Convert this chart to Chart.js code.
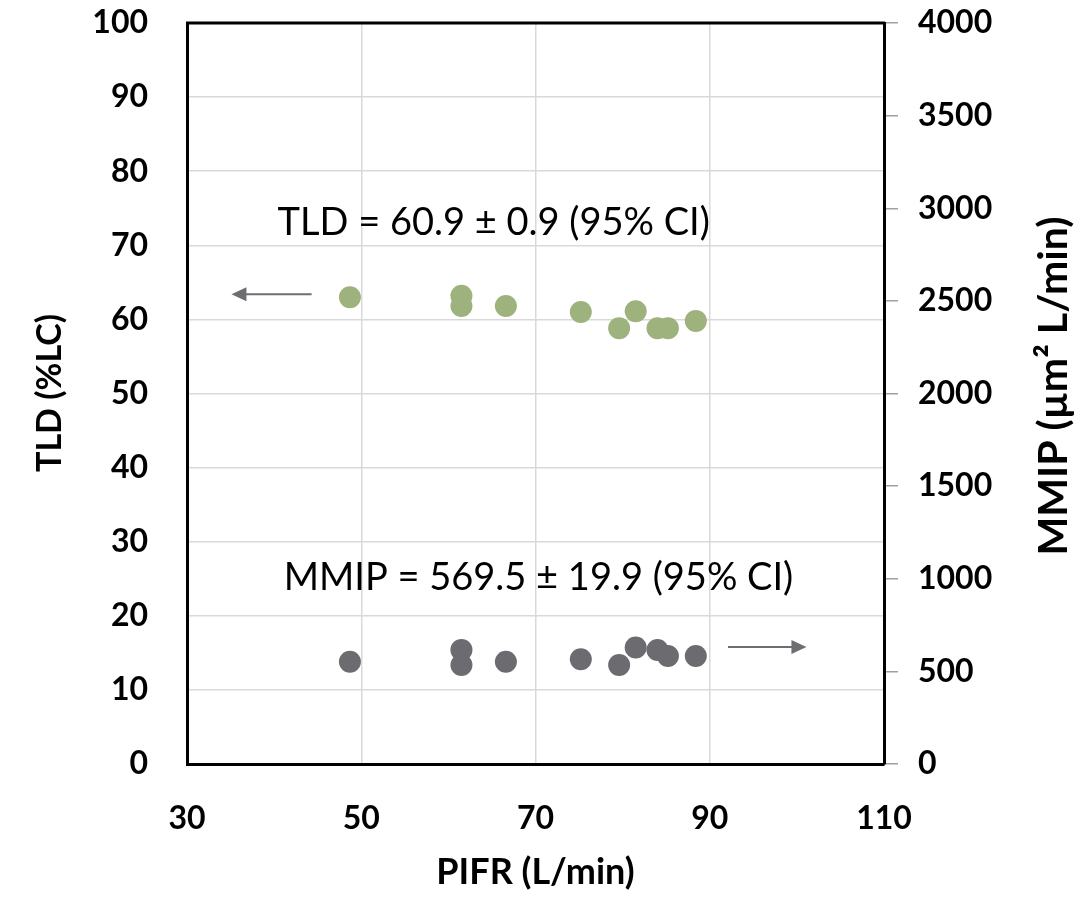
<!DOCTYPE html>
<html>
<head>
<meta charset="utf-8">
<script src="https://cdn.jsdelivr.net/npm/chart.js@4.4.0/dist/chart.umd.min.js"></script>
<style>
  html, body { margin: 0; padding: 0; background: #fff; }
  #wrap { width: 1084px; height: 905px; }
</style>
</head>
<body>
<div id="wrap"><canvas id="chart" width="1084" height="905"></canvas></div>
<script>
// datos
const pifr = [48.7, 61.5, 61.5, 66.6, 75.2, 79.6, 81.5, 84.0, 85.2, 88.4];
const tld  = [63.0, 63.2, 61.8, 61.8, 61.0, 58.8, 61.1, 58.8, 58.8, 59.8];
const pifrMmip = [48.7, 61.5, 61.5, 66.6, 75.2, 79.6, 81.5, 84.0, 85.2, 88.4];
const mmip = [552, 616, 534, 552, 565, 534, 629, 615, 583, 583];

const xTicks = [30, 50, 70, 90, 110];
const tldTicks = [0, 10, 20, 30, 40, 50, 60, 70, 80, 90, 100];
const mmipTicks = [0, 500, 1000, 1500, 2000, 2500, 3000, 3500, 4000];

const tldLabel = 'TLD = 60.9 \u00b1 0.9 (95% CI)';
const mmipLabel = 'MMIP = 569.5 \u00b1 19.9 (95% CI)';

const FONT = 'Lato, "Open Sans", sans-serif';
const GREEN = '#9db27c';
const GREY = '#6b6b70';

// flecha con punta triangular
function arrow(c, x1, y1, x2, y2) {
    const dir = Math.sign(x2 - x1);
    c.save();
    c.strokeStyle = '#6e6e72';
    c.fillStyle = '#6e6e72';
    c.lineWidth = 2;
    c.beginPath();
    c.moveTo(x1, y1);
    c.lineTo(x2 - dir * 12, y2);
    c.stroke();
    c.beginPath();
    c.moveTo(x2, y2);
    c.lineTo(x2 - dir * 15, y2 - 7);
    c.lineTo(x2 - dir * 15, y2 + 7);
    c.closePath();
    c.fill();
    c.restore();
}

const extras = {
    id: 'extras',
    afterDraw(chart) {
        const c = chart.ctx;
        const a = chart.chartArea;
        const x = chart.scales.x, yl = chart.scales.y, yr = chart.scales.y2;

        // marco superior
        c.save();
        c.strokeStyle = '#000';
        c.lineWidth = 3;
        c.beginPath();
        c.moveTo(a.left - 1, a.top);
        c.lineTo(a.right + 1, a.top);
        c.stroke();
        c.restore();

        // textos de anotación
        c.save();
        c.fillStyle = '#000';
        c.font = '38px ' + FONT;
        c.textBaseline = 'middle';
        c.textAlign = 'left';
        c.fillText(tldLabel, x.getPixelForValue(40.4), yl.getPixelForValue(73.1));
        c.fillText(mmipLabel, x.getPixelForValue(41.1), yr.getPixelForValue(1004));
        c.restore();

        // flechas
        arrow(c, x.getPixelForValue(44.3), yl.getPixelForValue(63.4),
                 x.getPixelForValue(35.1), yl.getPixelForValue(63.4));
        arrow(c, x.getPixelForValue(92.1), yr.getPixelForValue(632),
                 x.getPixelForValue(101.1), yr.getPixelForValue(632));

        // títulos de ejes
        c.save();
        c.fillStyle = '#000';
        c.font = 'bold 36px ' + FONT;
        c.textAlign = 'center';
        c.textBaseline = 'middle';
        c.fillText('PIFR (L/min)', (a.left + a.right) / 2, 872);
        c.translate(50, 393);
        c.rotate(-Math.PI / 2);
        c.font = 'bold 34px ' + FONT;
        c.fillText('TLD (%LC)', 0, 0);
        c.restore();

        c.save();
        c.fillStyle = '#000';
        c.font = 'bold 41px ' + FONT;
        c.textAlign = 'center';
        c.textBaseline = 'middle';
        c.translate(1054, 386);
        c.rotate(-Math.PI / 2);
        c.fillText('MMIP (\u00b5m\u00b2 L/min)', 0, 0);
        c.restore();
    }
};

// ancho fijo y sin relleno extra arriba/abajo
function fitY(width) {
    return s => {
        s.width = width;
        s.paddingTop = 0;
        s.paddingBottom = 0;
    };
}

const ctx = document.getElementById('chart').getContext('2d');
const chart = new Chart(ctx, {
    type: 'scatter',
    data: {
        datasets: [
            {
                label: 'TLD',
                data: pifr.map((v, i) => ({ x: v, y: tld[i] })),
                yAxisID: 'y',
                backgroundColor: GREEN,
                borderColor: GREEN,
                pointRadius: 11,
                borderWidth: 0
            },
            {
                label: 'MMIP',
                data: pifrMmip.map((v, i) => ({ x: v, y: mmip[i] })),
                yAxisID: 'y2',
                backgroundColor: GREY,
                borderColor: GREY,
                pointRadius: 11,
                borderWidth: 0
            }
        ]
    },
    options: {
        responsive: false,
        animation: false,
        layout: { padding: { top: 23, left: 0, right: 0, bottom: 0 } },
        plugins: {
            legend: { display: false },
            tooltip: { enabled: false }
        },
        scales: {
            x: {
                type: 'linear',
                min: xTicks[0],
                max: xTicks[xTicks.length - 1],
                afterBuildTicks: s => { s.ticks = xTicks.map(v => ({ value: v })); },
                afterFit: s => { s.height = 141; s.paddingLeft = 0; s.paddingRight = 0; },
                grid: { color: '#d9d9d9', lineWidth: 1.5, drawTicks: false },
                border: { color: '#000', width: 3 },
                ticks: {
                    padding: 35,
                    color: '#000',
                    font: { family: FONT, size: 32, weight: 'bold' }
                }
            },
            y: {
                type: 'linear',
                position: 'left',
                min: 0,
                max: 100,
                afterBuildTicks: s => { s.ticks = tldTicks.map(v => ({ value: v })); },
                afterFit: fitY(187),
                grid: { color: '#d9d9d9', lineWidth: 1.5, drawTicks: false },
                border: { color: '#000', width: 3 },
                ticks: {
                    padding: 39,
                    color: '#000',
                    font: { family: FONT, size: 32, weight: 'bold' }
                }
            },
            y2: {
                type: 'linear',
                position: 'right',
                min: 0,
                max: 4000,
                afterBuildTicks: s => { s.ticks = mmipTicks.map(v => ({ value: v })); },
                afterFit: fitY(200),
                grid: { drawOnChartArea: false, color: '#a0a0a0', lineWidth: 1.5, tickLength: 14 },
                border: { color: '#000', width: 3 },
                ticks: {
                    padding: 20,
                    color: '#000',
                    font: { family: FONT, size: 32, weight: 'bold' },
                    callback: v => String(v)
                }
            }
        }
    },
    plugins: [extras]
});
</script>
</body>
</html>
